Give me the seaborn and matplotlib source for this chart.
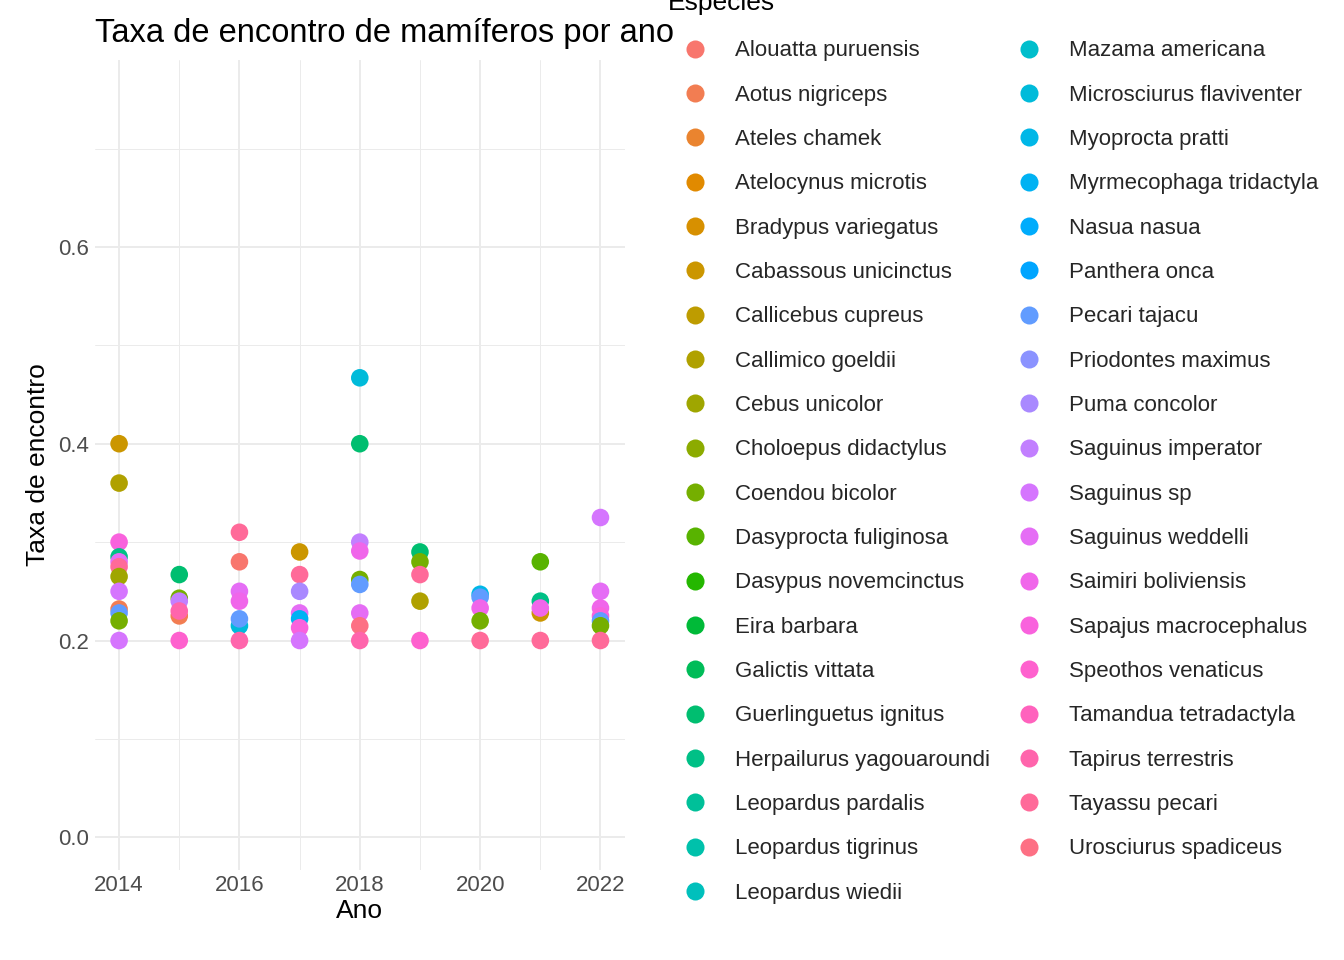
import numpy as np
import pandas as pd
import matplotlib
matplotlib.use("Agg")
import matplotlib.pyplot as plt
import seaborn as sns
from matplotlib.lines import Line2D

species = [
    "Alouatta puruensis", "Aotus nigriceps", "Ateles chamek", "Atelocynus microtis",
    "Bradypus variegatus", "Cabassous unicinctus", "Callicebus cupreus", "Callimico goeldii",
    "Cebus unicolor", "Choloepus didactylus", "Coendou bicolor", "Dasyprocta fuliginosa",
    "Dasypus novemcinctus", "Eira barbara", "Galictis vittata", "Guerlinguetus ignitus",
    "Herpailurus yagouaroundi", "Leopardus pardalis", "Leopardus tigrinus", "Leopardus wiedii",
    "Mazama americana", "Microsciurus flaviventer", "Myoprocta pratti", "Myrmecophaga tridactyla",
    "Nasua nasua", "Panthera onca", "Pecari tajacu", "Priodontes maximus", "Puma concolor",
    "Saguinus imperator", "Saguinus sp", "Saguinus weddelli", "Saimiri boliviensis",
    "Sapajus macrocephalus", "Speothos venaticus", "Tamandua tetradactyla", "Tapirus terrestris",
    "Tayassu pecari", "Urosciurus spadiceus",
]

years = [2014]*12 + [2015]*6 + [2016]*7 + [2017]*7 + [2018]*9 + [2019]*5 + [2020]*5 + [2021]*5 + [2022]*7
sp = [
    "Cabassous unicinctus", "Callimico goeldii", "Sapajus macrocephalus", "Herpailurus yagouaroundi",
    "Saguinus weddelli", "Tayassu pecari", "Cebus unicolor", "Saguinus sp", "Aotus nigriceps",
    "Pecari tajacu", "Coendou bicolor", "Saguinus sp",
    "Guerlinguetus ignitus", "Coendou bicolor", "Saguinus imperator", "Aotus nigriceps",
    "Tapirus terrestris", "Speothos venaticus",
    "Tayassu pecari", "Alouatta puruensis", "Saguinus weddelli", "Saimiri boliviensis",
    "Microsciurus flaviventer", "Pecari tajacu", "Tapirus terrestris",
    "Cabassous unicinctus", "Tayassu pecari", "Puma concolor", "Saguinus weddelli",
    "Myrmecophaga tridactyla", "Sapajus macrocephalus", "Saguinus sp",
    "Microsciurus flaviventer", "Guerlinguetus ignitus", "Saguinus imperator", "Saimiri boliviensis",
    "Coendou bicolor", "Pecari tajacu", "Saguinus weddelli", "Urosciurus spadiceus", "Tapirus terrestris",
    "Guerlinguetus ignitus", "Coendou bicolor", "Tayassu pecari", "Callimico goeldii", "Speothos venaticus",
    "Myoprocta pratti", "Pecari tajacu", "Saimiri boliviensis", "Coendou bicolor", "Tayassu pecari",
    "Dasyprocta fuliginosa", "Herpailurus yagouaroundi", "Cabassous unicinctus", "Saimiri boliviensis",
    "Tayassu pecari",
    "Saguinus sp", "Saguinus weddelli", "Saimiri boliviensis", "Sapajus macrocephalus",
    "Pecari tajacu", "Coendou bicolor", "Tayassu pecari",
]
rate = [
    0.40, 0.36, 0.30, 0.285, 0.28, 0.275, 0.265, 0.25, 0.232, 0.228, 0.22, 0.20,
    0.267, 0.243, 0.24, 0.225, 0.23, 0.20,
    0.31, 0.28, 0.25, 0.24, 0.215, 0.222, 0.20,
    0.29, 0.267, 0.25, 0.228, 0.222, 0.213, 0.20,
    0.467, 0.40, 0.30, 0.291, 0.262, 0.257, 0.228, 0.215, 0.20,
    0.29, 0.28, 0.267, 0.24, 0.20,
    0.247, 0.244, 0.233, 0.22, 0.20,
    0.28, 0.24, 0.228, 0.233, 0.20,
    0.325, 0.25, 0.233, 0.225, 0.22, 0.215, 0.20,
]

df = pd.DataFrame({"Ano": years, "Especie": sp, "Taxa": rate})


def hcl_to_hex(h, c, l):
    # polar LUV -> sRGB (like R's hcl)
    hr = np.deg2rad(h)
    u, v = c * np.cos(hr), c * np.sin(hr)
    xn, yn, zn = 0.95047, 1.0, 1.08883
    un = 4 * xn / (xn + 15 * yn + 3 * zn)
    vn = 9 * yn / (xn + 15 * yn + 3 * zn)
    y = yn * (((l + 16) / 116) ** 3 if l > 8 else l / 903.3)
    up, vp = u / (13 * l) + un, v / (13 * l) + vn
    x = 9 * y * up / (4 * vp)
    z = -x / 3 - 5 * y + 3 * y / vp
    rgb = np.array([[3.2406, -1.5372, -0.4986],
                    [-0.9689, 1.8758, 0.0415],
                    [0.0557, -0.2040, 1.0570]]) @ np.array([x, y, z])
    rgb = np.where(rgb > 0.0031308, 1.055 * np.clip(rgb, 0, None) ** (1 / 2.4) - 0.055, 12.92 * rgb)
    rgb = np.clip(rgb, 0, 1)
    return matplotlib.colors.to_hex(rgb)


n = len(species)
hues = np.linspace(15, 375, n + 1)[:-1]
palette = {s: hcl_to_hex(h, 100, 65) for s, h in zip(species, hues)}

sns.set_theme(style="whitegrid")
plt.rcParams['font.family'] = ['Liberation Sans', 'DejaVu Sans']

fig = plt.figure(figsize=(13.44, 9.6), dpi=100)
ax = fig.add_axes([0.0707, 0.094, 0.394, 0.8435])
sns.scatterplot(data=df, x="Ano", y="Taxa", hue="Especie", hue_order=species,
                palette=palette, s=160, linewidth=0, ax=ax, legend=False, zorder=3)

ax.set_xlim(2013.6, 2022.4)
ax.set_ylim(-0.033, 0.79)
ax.set_xticks([2014, 2016, 2018, 2020, 2022])
ax.set_xticks([2015, 2017, 2019, 2021], minor=True)
ax.set_yticks([0.0, 0.2, 0.4, 0.6])
ax.set_yticklabels(["0.0", "0.2", "0.4", "0.6"])
ax.set_yticks([0.1, 0.3, 0.5, 0.7], minor=True)
ax.grid(which="major", color="#EBEBEB", linewidth=1.4)
ax.grid(which="minor", color="#EBEBEB", linewidth=0.7)
ax.set_facecolor("white")
for s_ in ax.spines.values():
    s_.set_visible(False)
ax.tick_params(axis="both", which="both", length=0, labelsize=16, labelcolor="#4D4D4D", pad=4)
ax.set_xlabel("Ano", fontsize=19, color="black", labelpad=2)
ax.set_ylabel("Taxa de encontro", fontsize=19, color="black", labelpad=6)
fig.text(0.0707, 0.956, "Taxa de encontro de mamíferos por ano", fontsize=23.5,
         color="black", va="baseline")

handles = [Line2D([], [], marker="o", linestyle="", markersize=13,
                  markerfacecolor=palette[s], markeredgewidth=0) for s in species]
kw = dict(frameon=False, fontsize=16, labelspacing=1.05, handletextpad=1.3,
          handlelength=1.0, borderaxespad=0, borderpad=0)
fig.legend(handles[:20], species[:20], loc="upper left",
           bbox_to_anchor=(0.509, 0.958), **kw)
fig.legend(handles[20:], species[20:], loc="upper left",
           bbox_to_anchor=(0.757, 0.958), **kw)
fig.text(0.497, 0.997, "Espécies", fontsize=19, color="black", va="center")

fig.savefig("out.png", dpi=100)
